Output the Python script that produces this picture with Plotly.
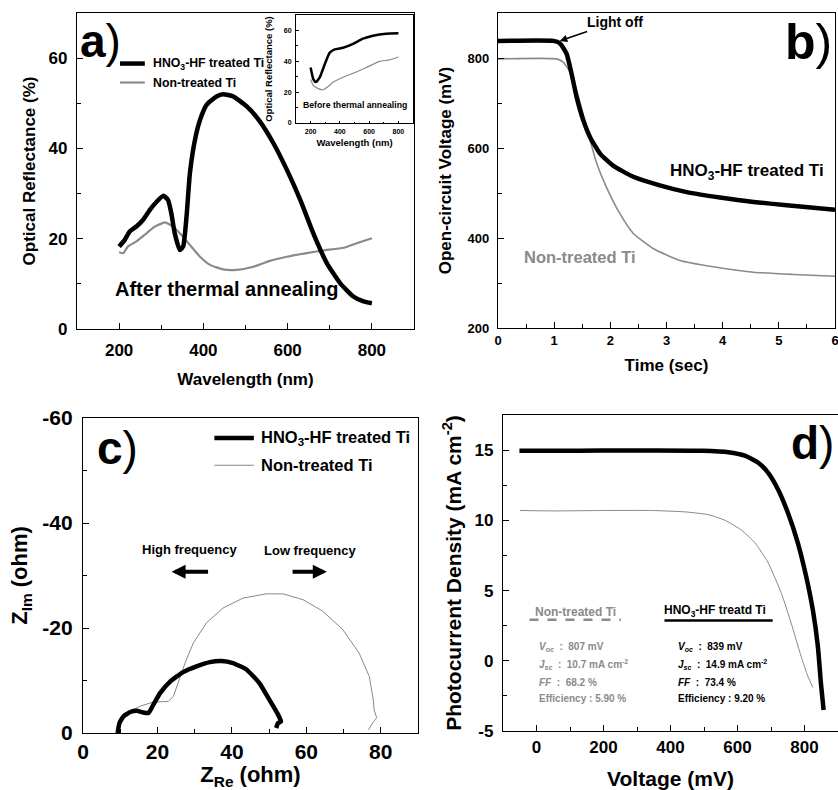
import plotly.graph_objects as go

# ---------------- data ----------------
# (a) optical reflectance after annealing
wl_treated = [200, 213, 225, 241, 257, 273, 289, 305, 316, 324, 332, 344, 352, 360, 368, 380, 392, 408, 431, 447,
              471, 503, 534, 566, 598, 630, 661, 693, 725, 756, 780, 800]
refl_treated = [18.3, 19.7, 21.6, 22.7, 24.2, 26.4, 28.2, 29.5, 28.6, 25.6, 21.2, 17.5, 18.3, 24.9, 34.5, 41.9, 46.3,
                49.7, 51.5, 52.0, 51.5, 49.3, 46.0, 41.2, 35.3, 28.6, 21.2, 14.6, 10.1, 7.2, 6.1, 5.7]
wl_nontreated = [200, 210, 221, 241, 265, 285, 309, 328, 348, 368, 392, 416, 447, 479, 519, 558, 598, 645, 685, 733,
                 764, 800]
refl_nontreated = [17.0, 16.8, 18.3, 19.4, 21.2, 22.7, 23.6, 22.7, 20.8, 18.6, 16.0, 14.2, 13.2, 13.1, 13.8, 15.1,
                   16.0, 16.8, 17.4, 18.0, 19.0, 20.1]
# (a) inset: before annealing
inset_wl_treated = [200, 218, 236, 263, 297, 331, 365, 422, 490, 558, 626, 716, 800]
inset_refl_treated = [36.0, 28.6, 26.5, 29.7, 38.2, 45.6, 47.7, 48.8, 51.3, 54.7, 56.6, 57.9, 58.1]
inset_wl_nontreated = [200, 218, 252, 286, 320, 354, 422, 490, 581, 671, 739, 800]
inset_refl_nontreated = [28.2, 24.4, 22.3, 21.6, 23.7, 26.5, 29.7, 32.2, 36.0, 39.9, 40.9, 42.8]

# (b) open-circuit voltage decay
time_treated = [0, 0.985, 1.10, 1.22, 1.31, 1.40, 1.52, 1.64, 1.82, 2.05, 2.41, 2.88, 3.36, 3.95, 4.55, 5.14, 6.0]
voc_treated = [838, 838, 833, 810, 765, 713, 661, 624, 587, 561, 536, 517, 502, 490, 480, 473, 463]
time_nontreated = [0, 1.04, 1.16, 1.28, 1.40, 1.52, 1.64, 1.76, 1.93, 2.17, 2.41, 2.77, 3.24, 3.83, 4.55, 5.26, 6.0]
voc_nontreated = [798, 798, 791, 769, 728, 673, 617, 565, 513, 454, 410, 376, 350, 336, 324, 319, 315]
time_tickvals = [0, 1, 2, 3, 4, 5, 6]
time_ticktext = ["0", "1", "2", "3", "4", "5", "6"]

# (c) Nyquist plot
zre_treated = [9.3, 9.8, 10.9, 12.7, 14.4, 16.2, 17.6, 18.9, 20.7, 23.4, 26.9, 30.5, 34.1, 37.2, 40.3, 43.9, 47.4,
               50.1, 52.4, 53.2, 52.4, 51.9]
zim_treated = [0, -1.9, -3.2, -4.0, -4.25, -3.9, -3.8, -5.4, -7.6, -9.8, -11.6, -12.7, -13.5, -13.7, -13.3, -12.1,
               -9.5, -6.3, -3.5, -2.2, -1.9, -0.95]
zre_nontreated = [9.3, 10.4, 12.7, 15.3, 18.9, 22.9, 24.3, 25.6, 27.4, 29.6, 33.2, 37.6, 43.0, 49.2, 53.7, 59.1, 64.4,
                  69.8, 74.2, 76.9, 78.0, 78.2, 78.9, 77.8, 76.7]
zim_nontreated = [0, -2.9, -4.1, -5.1, -5.9, -6.0, -7.0, -9.5, -13.3, -17.1, -21.0, -23.8, -25.7, -26.5, -26.5, -25.4,
                  -23.2, -19.7, -15.2, -10.8, -6.3, -4.4, -2.9, -1.9, -0.6]
zim_tickvals = [0, -20, -40, -60]
zim_ticktext = ["0", "-20", "-40", "-60"]

# (d) J-V curves
volt_treated = [-51, 49, 198, 346, 494, 573, 622, 662, 691, 721, 751, 780, 805, 825, 840, 849, 857]
jsc_treated = [14.95, 14.95, 14.97, 14.97, 14.95, 14.85, 14.6, 14.1, 13.4, 12.2, 10.5, 8.4, 6.0, 3.6, 1.0, -1.6, -3.5]
volt_nontreated = [-49, 49, 198, 346, 444, 514, 563, 612, 652, 691, 731, 760, 790, 810, 825]
jsc_nontreated = [10.7, 10.67, 10.7, 10.7, 10.6, 10.4, 10.0, 9.3, 8.4, 7.0, 4.8, 2.7, 0.3, -1.1, -1.9]
jsc_tickvals = [-5, 0, 5, 10, 15]
jsc_ticktext = ["-5", "0", "5", "10", "15"]

BLACK = "#000000"
GREY = "#8a8a8a"
GREY_THIN = "#7a7a7a"
FONT = "Liberation Sans, Arial, sans-serif"

# the page's body margin is removed (see post_script), so the figure fills the window exactly
W, H = 838, 790


def px_dom_x(a, b):
    return [a / W, min(1.0, b / W)]


def px_dom_y(top, bottom):
    return [1 - bottom / H, 1 - top / H]


def px_x(a):
    return a / W


def px_y(a):
    return 1 - a / H


fig = go.Figure()

# ---- traces ----
fig.add_trace(go.Scatter(x=wl_nontreated, y=refl_nontreated, mode="lines", line=dict(color=GREY, width=2.2, shape="spline", smoothing=0.5),
                         xaxis="x", yaxis="y", showlegend=False))
fig.add_trace(go.Scatter(x=wl_treated, y=refl_treated, mode="lines", line=dict(color=BLACK, width=4.5, shape="spline", smoothing=0.5),
                         xaxis="x", yaxis="y", showlegend=False))
fig.add_trace(go.Scatter(x=inset_wl_nontreated, y=inset_refl_nontreated, mode="lines", line=dict(color=GREY, width=1.2, shape="spline", smoothing=0.5),
                         xaxis="x5", yaxis="y5", showlegend=False))
fig.add_trace(go.Scatter(x=inset_wl_treated, y=inset_refl_treated, mode="lines", line=dict(color=BLACK, width=2.5, shape="spline", smoothing=0.5),
                         xaxis="x5", yaxis="y5", showlegend=False))
fig.add_trace(go.Scatter(x=time_nontreated, y=voc_nontreated, mode="lines", line=dict(color=GREY, width=1.6, shape="spline", smoothing=0.5),
                         xaxis="x2", yaxis="y2", showlegend=False))
fig.add_trace(go.Scatter(x=time_treated, y=voc_treated, mode="lines", line=dict(color=BLACK, width=4.5, shape="spline", smoothing=0.5),
                         xaxis="x2", yaxis="y2", showlegend=False))
fig.add_trace(go.Scatter(x=zre_nontreated, y=zim_nontreated, mode="lines", line=dict(color=GREY_THIN, width=0.9),
                         xaxis="x3", yaxis="y3", showlegend=False))
fig.add_trace(go.Scatter(x=zre_treated, y=zim_treated, mode="lines", line=dict(color=BLACK, width=4.5, shape="spline", smoothing=0.4),
                         xaxis="x3", yaxis="y3", showlegend=False))
fig.add_trace(go.Scatter(x=volt_nontreated, y=jsc_nontreated, mode="lines", line=dict(color=GREY_THIN, width=0.9, shape="spline", smoothing=0.5),
                         xaxis="x4", yaxis="y4", showlegend=False))
fig.add_trace(go.Scatter(x=volt_treated, y=jsc_treated, mode="lines", line=dict(color=BLACK, width=4.5, shape="spline", smoothing=0.5),
                         xaxis="x4", yaxis="y4", showlegend=False))


def axis(domain, rng, dtick, minor_dtick, tick_size, title, title_size, standoff, anchor, label_gap,
         lw=1.4, tlen=6, tickvals=None, ticktext=None):
    d = dict(domain=domain, range=rng, dtick=dtick, tick0=0, showline=True, mirror=True, linecolor="black",
             linewidth=lw, ticks="inside", ticklen=tlen, tickwidth=lw, tickcolor="black", showgrid=False,
             zeroline=False, automargin=False, ticklabelstandoff=label_gap, ticklabeloverflow="allow",
             minor=dict(dtick=minor_dtick, tick0=0, ticks="inside", ticklen=tlen * 0.6, tickwidth=lw,
                        tickcolor="black", showgrid=False),
             tickfont=dict(size=tick_size, family=FONT, color="black", weight="bold"),
             title=dict(text=title, font=dict(size=title_size, family=FONT, color="black", weight="bold"),
                        standoff=standoff),
             anchor=anchor)
    if tickvals is not None:
        d.update(tickmode="array", tickvals=tickvals, ticktext=ticktext)
    return d


layout = dict(
    width=W, height=H, margin=dict(l=0, r=0, t=0, b=0, autoexpand=False),
    paper_bgcolor="white", plot_bgcolor="rgba(0,0,0,0)",
    font=dict(family=FONT, color="black"),
    xaxis=axis(px_dom_x(77, 414), [100, 900], 200, 100, 17, "Wavelength (nm)", 17, 14, "y", 5),
    yaxis=axis(px_dom_y(13, 329), [0, 70], 20, 10, 17, "Optical Reflectance (%)", 17, 8, "x", 5),
    xaxis2=axis(px_dom_x(498, 835), [0, 6], 1, 0.5, 13, "Time (sec)", 17, 12, "y2", 0,
                tickvals=time_tickvals, ticktext=time_ticktext),
    yaxis2=axis(px_dom_y(13, 328), [200, 900], 200, 100, 13, "Open-circuit Voltage (mV)", 17, 11, "x2", 5),
    xaxis3=axis(px_dom_x(83, 418), [0, 90], 20, 10, 21, "Z<sub>Re</sub> (ohm)", 22, 32, "y3", 0),
    yaxis3=axis(px_dom_y(418, 733), [0, -60], 20, 10, 21, "Z<sub>Im</sub> (ohm)", 22, 8, "x3", 5,
                tickvals=zim_tickvals, ticktext=zim_ticktext),
    xaxis4=axis(px_dom_x(503, 838), [-100, 900], 200, 100, 17, "Voltage (mV)", 21, 21, "y4", 0),
    yaxis4=axis(px_dom_y(415, 731), [-5, 17.5], 5, 2.5, 17, "Photocurrent Density (mA cm<sup>-2</sup>)", 21, 7, "x4", 5,
                tickvals=jsc_tickvals, ticktext=jsc_ticktext),
    xaxis5=axis(px_dom_x(296, 413), [100, 900], 200, 100, 7, "Wavelength (nm)", 9.5, 4, "y5", 2, lw=1, tlen=2.5),
    yaxis5=axis(px_dom_y(15, 123), [0, 70], 20, 10, 7, "Optical Reflectance (%)", 9.5, 9, "x5", 2, lw=1, tlen=2.5),
)
fig.update_layout(**layout)

ann = []
shapes = []


def txt(text, x, y, xref, yref, size, color="black", xanchor="center", yanchor="middle", weight="bold"):
    ann.append(dict(text=text, x=x, y=y, xref=xref, yref=yref, showarrow=False, xanchor=xanchor, yanchor=yanchor,
                    font=dict(size=size, color=color, family=FONT, weight=weight)))


# panel labels
txt("<b>a</b>)", px_x(100), px_y(41), "paper", "paper", 46, weight="normal")
txt("<b>b</b>)", px_x(808), px_y(42), "paper", "paper", 50, weight="normal")
txt("<b>c</b>)", px_x(117), px_y(448), "paper", "paper", 46, weight="normal")
txt("<b>d</b>)", px_x(812), px_y(443), "paper", "paper", 46, weight="normal")

# (a) legend + label
shapes.append(dict(type="line", xref="x", yref="y", x0=202, x1=261, y0=58.8, y1=58.8, line=dict(color=BLACK, width=4.5)))
shapes.append(dict(type="line", xref="x", yref="y", x0=202, x1=261, y0=54.6, y1=54.6, line=dict(color=GREY, width=2.2)))
txt("HNO<sub>3</sub>-HF treated Ti", 275, 58.8, "x", "y", 12.3, xanchor="left")
txt("Non-treated Ti", 275, 54.6, "x", "y", 12.3, xanchor="left")
txt("After thermal annealing", 456, 8.8, "x", "y", 20)
txt("Before thermal annealing", 505, 11.5, "x5", "y5", 8.7)

# (b) labels
txt("HNO<sub>3</sub>-HF treated Ti", 4.43, 547, "x2", "y2", 17)
txt("Non-treated Ti", 1.46, 358, "x2", "y2", 16.5, color=GREY)
ann.append(dict(text="Light off", x=1.1, y=838, xref="x2", yref="y2", ax=2.08, ay=880, axref="x2", ayref="y2",
                showarrow=True, arrowhead=2, arrowsize=1, arrowwidth=1.5, arrowcolor="black",
                font=dict(size=14, color="black", family=FONT, weight="bold")))

# (c) legend + labels
shapes.append(dict(type="line", xref="x3", yref="y3", x0=35.3, x1=45.9, y0=-56.2, y1=-56.2, line=dict(color=BLACK, width=4.5)))
shapes.append(dict(type="line", xref="x3", yref="y3", x0=35.3, x1=45.9, y0=-51.0, y1=-51.0, line=dict(color=GREY_THIN, width=0.9)))
txt("HNO<sub>3</sub>-HF treated Ti", 47.3, -56.2, "x3", "y3", 16.5, xanchor="left")
txt("Non-treated Ti", 47.3, -51.0, "x3", "y3", 16.5, xanchor="left")
txt("High frequency", 28.6, -34.9, "x3", "y3", 13)
txt("Low frequency", 61.2, -34.8, "x3", "y3", 13)
ann.append(dict(text="", x=23.8, y=-30.7, ax=34.0, ay=-30.7, xref="x3", yref="y3", axref="x3", ayref="y3",
                showarrow=True, arrowhead=2, arrowsize=0.7, arrowwidth=4, arrowcolor="black"))
ann.append(dict(text="", x=65.5, y=-30.7, ax=55.9, ay=-30.7, xref="x3", yref="y3", axref="x3", ayref="y3",
                showarrow=True, arrowhead=2, arrowsize=0.7, arrowwidth=4, arrowcolor="black"))

# (d) parameter boxes
txt("Non-treated Ti", 116, 3.5, "x4", "y4", 12, color=GREY)
shapes.append(dict(type="line", xref="x4", yref="y4", x0=-21, x1=252, y0=2.93, y1=2.93, line=dict(color=GREY, width=2.5, dash="dash")))
txt("HNO<sub>3</sub>-HF treatd Ti", 533, 3.57, "x4", "y4", 12)
shapes.append(dict(type="line", xref="x4", yref="y4", x0=382, x1=705, y0=2.86, y1=2.86, line=dict(color=BLACK, width=2.5)))
rows_y = [1.0, -0.29, -1.57, -2.71]
nt_lines = ["<i>V</i><sub><i>oc</i></sub>  :  807 mV", "<i>J</i><sub><i>sc</i></sub>  :  10.7 mA cm<sup>-2</sup>",
            "<i>FF</i>  :  68.2 %", "Efficiency : 5.90 %"]
t_lines = ["<i>V</i><sub><i>oc</i></sub>  :  839 mV", "<i>J</i><sub><i>sc</i></sub>  :  14.9 mA cm<sup>-2</sup>",
           "<i>FF</i>  :  73.4 %", "Efficiency : 9.20 %"]
for yv, s in zip(rows_y, nt_lines):
    txt(s, 0, yv, "x4", "y4", 10, color=GREY, xanchor="left")
for yv, s in zip(rows_y, t_lines):
    txt(s, 415, yv, "x4", "y4", 10, xanchor="left")

fig.update_layout(annotations=ann, shapes=shapes)
fig.write_html("out.html", config={"displayModeBar": False},
               post_script="document.body.style.margin='0px';document.body.style.overflow='hidden';")
